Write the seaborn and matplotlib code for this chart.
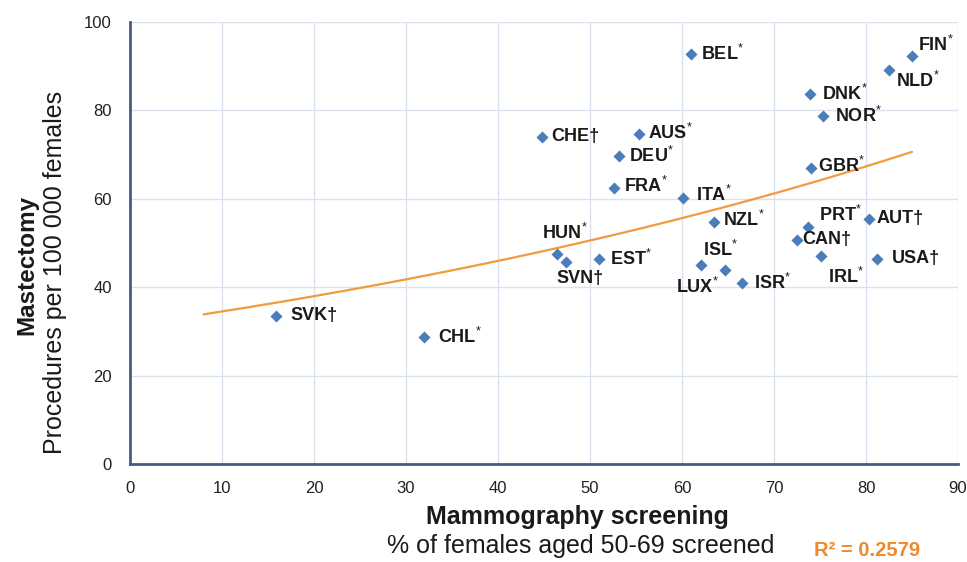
import numpy as np
import pandas as pd
import matplotlib
matplotlib.use("Agg")
import matplotlib.pyplot as plt
import seaborn as sns

# data
countries = ["SVK", "CHL", "HUN", "SVN", "EST", "CHE", "AUS", "DEU", "FRA", "ITA",
             "BEL", "NZL", "LUX", "ISL", "ISR", "DNK", "NOR", "GBR", "PRT", "CAN",
             "IRL", "AUT", "USA", "FIN", "NLD"]
screening = [15.9, 32.0, 46.4, 47.4, 51.0, 44.8, 55.3, 53.2, 52.6, 60.1,
             61.0, 63.5, 62.1, 64.7, 66.5, 73.9, 75.3, 74.0, 73.7, 72.5,
             75.1, 80.3, 81.2, 85.0, 82.5]
mastectomy = [33.5, 28.7, 47.5, 45.7, 46.4, 74.0, 74.7, 69.7, 62.4, 60.2,
              92.8, 54.8, 45.0, 43.9, 41.0, 83.7, 78.7, 67.0, 53.6, 50.7,
              47.1, 55.4, 46.4, 92.3, 89.1]
# "*" or "†" footnote mark after each country code
marks = ["†", "*", "*", "†", "*", "†", "*", "*", "*", "*",
         "*", "*", "*", "*", "*", "*", "*", "*", "*", "†",
         "*", "†", "†", "*", "*"]
trend_start = 8
r2_text = "R² = 0.2579"

df = pd.DataFrame({"country": countries, "x": screening, "y": mastectomy, "mark": marks})

# label placement (pixel offsets from the marker)
offsets = {
    "SVK": (14, 0, "left"), "CHL": (14, 0, "left"), "BEL": (10, 0, "left"),
    "CHE": (9, 0, "left"), "AUS": (9, 1, "left"), "DEU": (10, 0, "left"),
    "FRA": (10, 2, "left"), "ITA": (13, 3, "left"), "NZL": (9, 2, "left"),
    "EST": (11, 0, "left"), "ISR": (12, 0, "left"), "DNK": (12, 0, "left"),
    "NOR": (12, 0, "left"), "GBR": (7, 2, "left"), "USA": (15, 0, "left"),
    "AUT": (8, 1, "left"), "CAN": (5, 0, "left"), "PRT": (11, 12, "left"),
    "IRL": (7, -21, "left"), "FIN": (6, 11, "left"), "NLD": (7, -11, "left"),
    "HUN": (8, 21, "center"), "SVN": (14, -16, "center"),
    "LUX": (-4, -22, "center"), "ISL": (-5, 20, "center"),
}

sns.set_style("white")
plt.rcParams["font.family"] = ["Liberation Sans", "DejaVu Sans"]
plt.rcParams["mathtext.fontset"] = "custom"
plt.rcParams["mathtext.rm"] = "Liberation Sans"

fig = plt.figure(figsize=(9.67, 5.62), dpi=100)
ax = fig.add_axes([130 / 967, 1 - 464 / 562, 828 / 967, 442 / 562])

# exponential trend line, fitted like Excel does (log-linear)
b, log_a = np.polyfit(df["x"], np.log(df["y"]), 1)
tx = np.linspace(trend_start, df["x"].max(), 200)
trend = pd.DataFrame({"x": tx, "y": np.exp(log_a) * np.exp(b * tx)})
sns.lineplot(data=trend, x="x", y="y", color="#F29A3F", linewidth=1.6, ax=ax, zorder=2)

sns.scatterplot(data=df, x="x", y="y", marker="D", color="#4A7EBB", s=38,
                linewidth=0, ax=ax, zorder=3)

for _, r in df.iterrows():
    dx, dy, ha = offsets[r["country"]]
    if r["mark"] == "*":
        label = r["country"] + r"$^{*}$"
    else:
        label = r["country"] + "†"
    ax.annotate(label, (r["x"], r["y"]), xytext=(dx, dy), textcoords="offset pixels",
                ha=ha, va="center", fontsize=13, fontweight="bold", color="#1a1a1a",
                zorder=4)

ax.set_xlim(0, 90)
ax.set_ylim(0, 100)
ax.set_xticks(np.arange(0, 91, 10))
ax.set_yticks(np.arange(0, 101, 20))
ax.grid(True, color="#D9E1EE", linewidth=1)
ax.set_axisbelow(True)
for s in ["top", "right"]:
    ax.spines[s].set_visible(False)
for s in ["left", "bottom"]:
    ax.spines[s].set_color("#4A5A85")
    ax.spines[s].set_linewidth(2)
ax.tick_params(axis="both", length=0, labelsize=12, colors="#222222")
ax.tick_params(axis="x", pad=12)
ax.tick_params(axis="y", pad=13)
ax.set_xlabel("")
ax.set_ylabel("")

fig.text(27 / 967, 1 - 265 / 562, "Mastectomy", rotation=90, ha="center", va="center",
         fontsize=17.5, fontweight="bold", color="#1a1a1a")
fig.text(55 / 967, 1 - 272 / 562, "Procedures per 100 000 females", rotation=90,
         ha="center", va="center", fontsize=18, color="#1a1a1a")
fig.text(577 / 967, 1 - 517 / 562, "Mammography screening", ha="center", va="center",
         fontsize=18, fontweight="bold", color="#1a1a1a")
fig.text(581 / 967, 1 - 546 / 562, "% of females aged 50-69 screened", ha="center",
         va="center", fontsize=18, color="#1a1a1a")
fig.text(867 / 967, 1 - 551 / 562, r2_text, ha="center", va="center",
         fontsize=14.5, fontweight="bold", color="#EE8A2A")

fig.savefig("out.png", dpi=100)
